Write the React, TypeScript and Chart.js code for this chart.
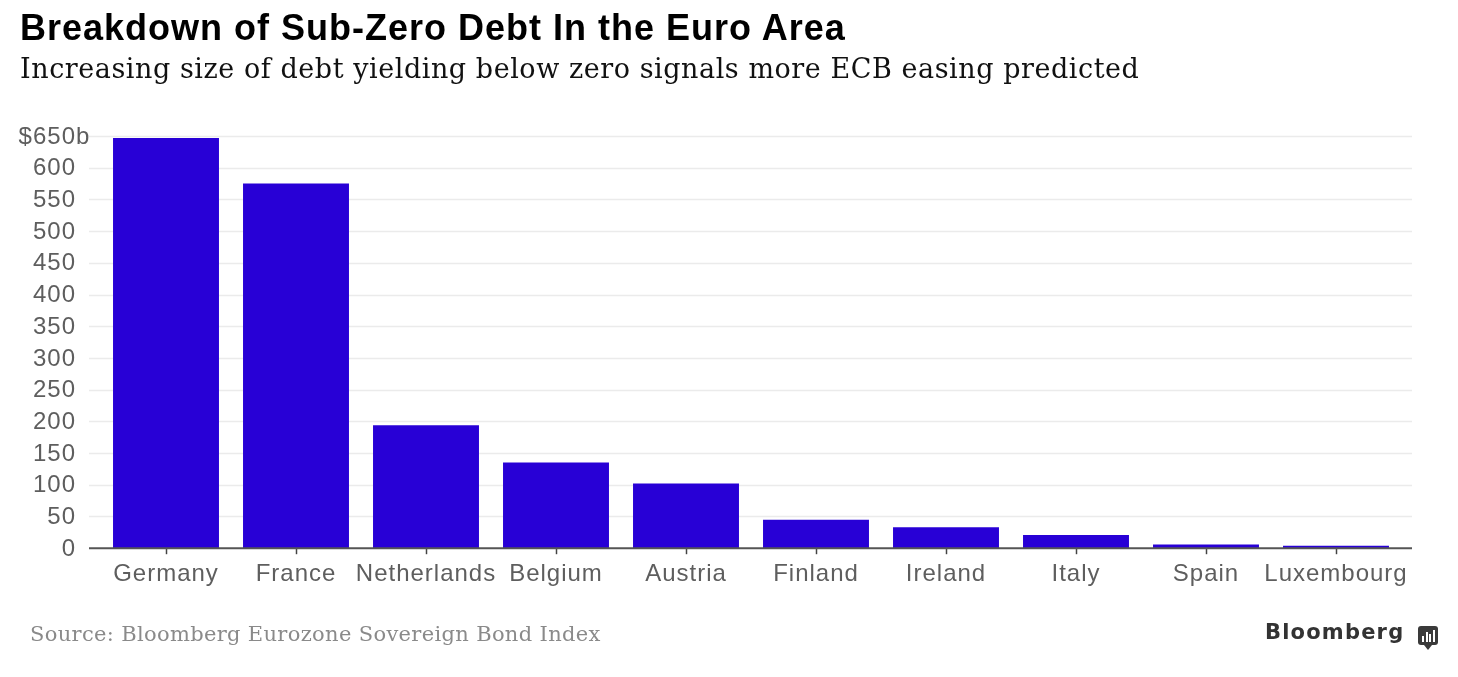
import React, { useEffect, useRef } from "react";
import { Chart, registerables } from "chart.js";

Chart.register(...registerables);

const categories = ["Germany", "France", "Netherlands", "Belgium", "Austria", "Finland", "Ireland", "Italy", "Spain", "Luxembourg"];
const debtValues = [647, 575, 194, 135, 102, 45, 33, 21, 6, 4];
const yTickMin = 0;
const yTickMax = 650;
const yTickStep = 50;

const TITLE = "Breakdown of Sub-Zero Debt In the Euro Area";
const SUBTITLE = "Increasing size of debt yielding below zero signals more ECB easing predicted";
const SOURCE = "Source: Bloomberg Eurozone Sovereign Bond Index";

const LABEL_FONT = '24px "Liberation Sans", Arial, sans-serif';
const LABEL_COLOR = "#5e5e5e";

const customAxesPlugin = {
  id: "customAxes",
  beforeDraw(chart: any) {
    chart.ctx.letterSpacing = "1px";
  },
  beforeDatasetsDraw(chart: any) {
    const { ctx, chartArea, scales } = chart;
    const y = scales.y;
    ctx.save();
    ctx.strokeStyle = "#ebebeb";
    ctx.lineWidth = 1.5;
    y.ticks.forEach((t: any) => {
      if (t.value === 0) return;
      const py = Math.round(y.getPixelForValue(t.value)) + 0.5;
      ctx.beginPath();
      ctx.moveTo(chartArea.left - 12, py);
      ctx.lineTo(chartArea.right + 11, py);
      ctx.stroke();
    });
    ctx.restore();
  },
  afterDatasetsDraw(chart: any) {
    const { ctx, chartArea, scales } = chart;
    const y = scales.y;
    ctx.save();
    const py0 = y.getPixelForValue(0);
    ctx.strokeStyle = "#555555";
    ctx.lineWidth = 2;
    ctx.beginPath();
    ctx.moveTo(chartArea.left - 12, py0);
    ctx.lineTo(chartArea.right + 11, py0);
    ctx.stroke();
    ctx.letterSpacing = "1px";
    ctx.font = LABEL_FONT;
    ctx.fillStyle = LABEL_COLOR;
    ctx.textBaseline = "middle";
    const xr = chartArea.left - 25;
    y.ticks.forEach((t: any) => {
      const py = y.getPixelForValue(t.value) + 1;
      const txt = String(t.value);
      ctx.textAlign = "right";
      ctx.fillText(txt, xr, py);
      if (t.value === yTickMax) {
        const w = ctx.measureText(txt).width;
        ctx.fillText("$", xr - w, py);
        ctx.textAlign = "left";
        ctx.fillText("b", xr, py);
      }
    });
    ctx.restore();
  },
  afterDraw(chart: any) {
    chart.ctx.letterSpacing = "0px";
  },
};

function BloombergIcon() {
  const bars = [6, 10, 8, 12];
  return (
    <div style={{ position: "absolute", left: 1418, top: 626, width: 20, height: 24 }}>
      <div
        style={{
          position: "absolute",
          left: 0,
          top: 0,
          width: 20,
          height: 19,
          background: "#3a3a3a",
          borderRadius: 3,
        }}
      >
        {bars.map((h, i) => (
          <div
            key={i}
            style={{
              position: "absolute",
              left: 4 + i * 3.5,
              bottom: 3,
              width: 2,
              height: h,
              background: "#ffffff",
            }}
          />
        ))}
      </div>
      <div
        style={{
          position: "absolute",
          left: 6,
          top: 19,
          width: 0,
          height: 0,
          borderLeft: "4px solid transparent",
          borderRight: "4px solid transparent",
          borderTop: "5px solid #3a3a3a",
        }}
      />
    </div>
  );
}

export default function App() {
  const canvasRef = useRef<HTMLCanvasElement | null>(null);

  useEffect(() => {
    if (!canvasRef.current) return;
    const chart = new Chart(canvasRef.current, {
      type: "bar",
      data: {
        labels: categories,
        datasets: [
          {
            data: debtValues,
            backgroundColor: "#2800d6",
            borderWidth: 0,
            barPercentage: 0.815,
            categoryPercentage: 1,
          },
        ],
      },
      options: {
        animation: false,
        responsive: false,
        devicePixelRatio: 1,
        layout: { padding: { left: 101, right: 57, top: 136, bottom: 82 } },
        plugins: { legend: { display: false }, tooltip: { enabled: false }, title: { display: false } },
        scales: {
          x: {
            type: "category",
            grid: {
              display: true,
              drawOnChartArea: false,
              drawTicks: true,
              offset: false,
              tickLength: 6,
              tickColor: "#444444",
              tickWidth: 1.5,
            },
            border: { display: false },
            ticks: {
              autoSkip: false,
              maxRotation: 0,
              minRotation: 0,
              padding: 6,
              color: LABEL_COLOR,
              font: { family: '"Liberation Sans", Arial, sans-serif', size: 24 },
            },
          },
          y: {
            type: "linear",
            min: yTickMin,
            max: yTickMax,
            grid: { display: false, drawTicks: false },
            border: { display: false },
            ticks: { display: false, stepSize: yTickStep, padding: 0 },
          },
        },
      },
      plugins: [customAxesPlugin],
    });
    return () => chart.destroy();
  }, []);

  return (
    <div
      style={{
        position: "absolute",
        left: 0,
        top: 0,
        width: 1458,
        height: 677,
        background: "#ffffff",
        overflow: "hidden",
      }}
    >
      <canvas
        ref={canvasRef}
        width={1458}
        height={677}
        style={{ position: "absolute", left: 0, top: 0, width: 1458, height: 677 }}
      />
      <div
        style={{
          position: "absolute",
          left: 20,
          top: 10,
          fontFamily: '"Liberation Sans", Arial, sans-serif',
          fontWeight: 700,
          fontSize: 36,
          lineHeight: "36px",
          letterSpacing: "1px",
          color: "#000000",
          whiteSpace: "nowrap",
        }}
      >
        {TITLE}
      </div>
      <div
        style={{
          position: "absolute",
          left: 20,
          top: 55,
          fontFamily: '"DejaVu Serif", serif',
          fontSize: 27,
          lineHeight: "27px",
          letterSpacing: "0.55px",
          color: "#111111",
          whiteSpace: "nowrap",
        }}
      >
        {SUBTITLE}
      </div>
      <div
        style={{
          position: "absolute",
          left: 30,
          top: 624,
          fontFamily: '"DejaVu Serif", serif',
          fontSize: 21,
          lineHeight: "21px",
          letterSpacing: "0.33px",
          color: "#8a8a8a",
          whiteSpace: "nowrap",
        }}
      >
        {SOURCE}
      </div>
      <div
        style={{
          position: "absolute",
          left: 1265,
          top: 622,
          fontFamily: '"DejaVu Sans", sans-serif',
          fontWeight: 700,
          fontSize: 21,
          lineHeight: "21px",
          letterSpacing: "1.2px",
          color: "#333333",
          whiteSpace: "nowrap",
        }}
      >
        Bloomberg
      </div>
      <BloombergIcon />
    </div>
  );
}
